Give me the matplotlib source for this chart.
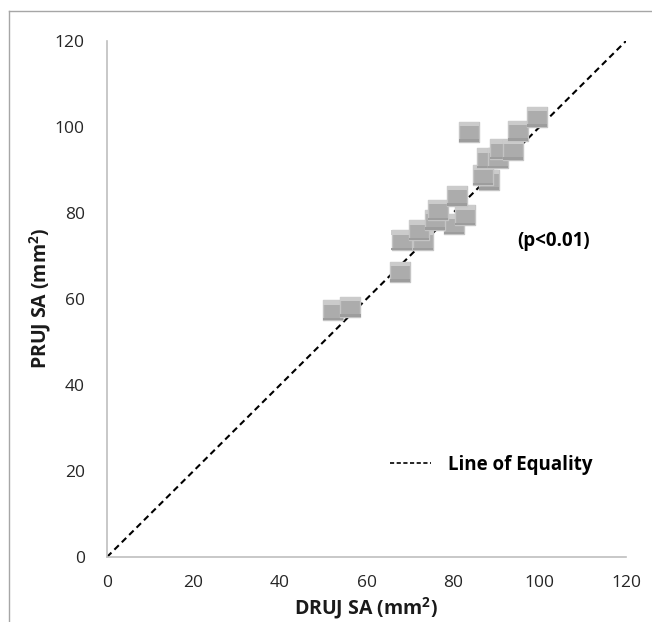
import matplotlib
matplotlib.use("Agg")
import matplotlib.pyplot as plt
from matplotlib.path import Path
from matplotlib.markers import MarkerStyle
from matplotlib.lines import Line2D

plt.rcParams['font.family'] = ['Open Sans', 'DejaVu Sans']

# Data
druj_sa = [52.3, 56.3, 67.7, 68.1, 73.1, 72.2, 80.2, 75.8, 82.8, 76.6, 81.0,
           88.4, 87.0, 87.8, 90.5, 90.9, 93.8, 83.8, 95.1, 99.5]
pruj_sa = [57.4, 58.2, 66.3, 73.7, 73.7, 76.0, 77.4, 78.4, 79.5, 80.7, 84.0,
           87.7, 88.8, 92.7, 92.7, 94.8, 94.7, 98.9, 99.1, 102.4]
x_ticks = [0, 20, 40, 60, 80, 100, 120]
y_ticks = [0, 20, 40, 60, 80, 100, 120]
equality = [0, 120]

W, H = 652, 622
fig = plt.figure(figsize=(W / 100, H / 100), dpi=100)
ax = fig.add_axes([107 / W, 1 - 557 / H, (626 - 107) / W, (557 - 41) / H])

# outer frame (partially visible: top and left edges)
fx, fy = 8.5 / W, 1 - 10.5 / H
fig.add_artist(Line2D([fx, 1.0], [fy, fy], transform=fig.transFigure,
                      color='#a6a6a6', linewidth=1.0))
fig.add_artist(Line2D([fx, fx], [0.0, fy], transform=fig.transFigure,
                      color='#a6a6a6', linewidth=1.0))

ax.plot(equality, equality, linestyle=(0, (3, 2)), color='black', linewidth=1.5,
        zorder=2)

band = MarkerStyle(Path([(-1, 0.55), (1, 0.55), (1, 1), (-1, 1), (-1, 0.55)]))
shadow = MarkerStyle(Path([(-1, -1), (1, -1), (1, -0.75), (-1, -0.75), (-1, -1)]))
for i, (xv, yv) in enumerate(zip(druj_sa, pruj_sa)):
    z = 3 + i * 0.01
    ax.scatter([xv], [yv], marker='s', s=210, facecolor='#acacac',
               edgecolor='#c4c4c4', linewidth=1.0, zorder=z)
    ax.scatter([xv], [yv], marker=band, s=210, facecolor='#cbcbcb',
               edgecolor='none', zorder=z + 0.001)
    ax.scatter([xv], [yv], marker=shadow, s=210, facecolor='#9d9d9d',
               edgecolor='none', zorder=z + 0.002)

ax.set_xlim(0, 120)
ax.set_ylim(0, 120)
ax.set_xticks(x_ticks)
ax.set_yticks(y_ticks)
ax.tick_params(length=0, labelsize=12.5, labelcolor='#262626')
ax.tick_params(axis='x', pad=13)
ax.tick_params(axis='y', pad=16)
for s in ['top', 'right']:
    ax.spines[s].set_visible(False)
for s in ['left', 'bottom']:
    ax.spines[s].set_color('#bfbfbf')
    ax.spines[s].set_linewidth(1.2)

ax.text(103.3, 73.5, '(p<0.01)', fontsize=13.5, fontweight='bold', ha='center',
        va='center', color='black')

handle = Line2D([], [], linestyle=(0, (2.5, 1.5)), color='black', linewidth=1.2)
leg = ax.legend([handle], ['Line of Equality'], loc='center left',
                bbox_to_anchor=((390 - 107) / 519, (557 - 465) / 516),
                frameon=False, handlelength=2.2, handletextpad=0.9,
                borderaxespad=0, borderpad=0,
                prop={'size': 13.5, 'weight': 'bold'})

fig.text(366 / W, 1 - 608 / H, 'DRUJ SA (mm$^{\\mathregular{2}}$)', fontsize=14,
         fontweight='bold', ha='center', va='center', color='#1a1a1a')
fig.text(40 / W, 1 - 298 / H, 'PRUJ SA (mm$^{\\mathregular{2}}$)', fontsize=14,
         fontweight='bold', ha='center', va='center', rotation=90, color='#1a1a1a')

fig.savefig('out.png', dpi=100)
